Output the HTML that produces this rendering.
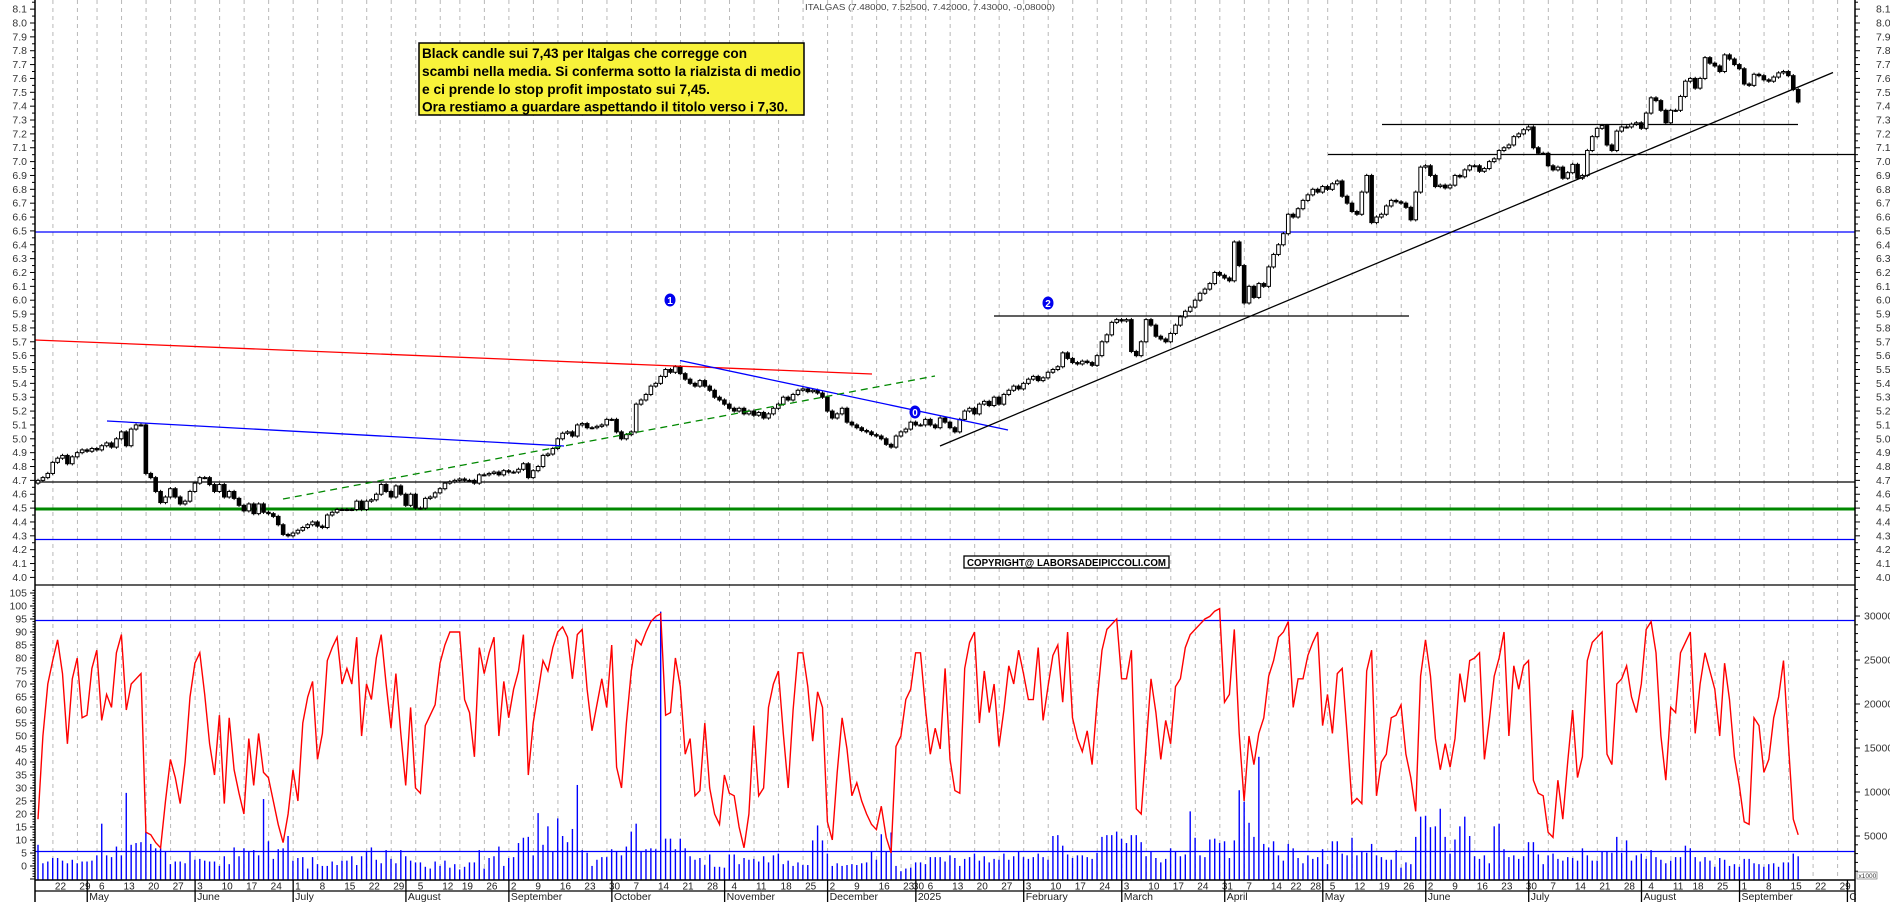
<!DOCTYPE html>
<html><head><meta charset="utf-8"><title>ITALGAS chart</title>
<style>
html,body{margin:0;padding:0;background:#fff;}
svg{display:block;font-family:"Liberation Sans",Arial,sans-serif;}
</style></head>
<body>
<svg id="chart" xmlns="http://www.w3.org/2000/svg" width="1890" height="902" viewBox="0 0 1890 902">
<defs><clipPath id="plotclip"><rect x="35" y="0" width="1821" height="902"/></clipPath></defs>
<rect x="0" y="0" width="1890" height="902" fill="#fff"/>
<g id="grid"></g>
<g id="hlines">
 <line x1="35" y1="232" x2="1855" y2="232" stroke="#0000ff" stroke-width="1.3"/>
 <line x1="35" y1="482" x2="1855" y2="482" stroke="#000" stroke-width="1.3"/>
 <line x1="35" y1="509" x2="1855" y2="509" stroke="#008800" stroke-width="3"/>
 <line x1="35" y1="539.5" x2="1855" y2="539.5" stroke="#0000ff" stroke-width="1.3"/>
 <line x1="994" y1="316" x2="1409" y2="316" stroke="#000" stroke-width="1.3"/>
 <line x1="1328" y1="154.5" x2="1855" y2="154.5" stroke="#000" stroke-width="1.3"/>
 <line x1="1382" y1="124.5" x2="1798" y2="124.5" stroke="#000" stroke-width="1.3"/>
 <line x1="35" y1="585" x2="1855" y2="585" stroke="#000" stroke-width="1.3"/>
 <line x1="35" y1="620.5" x2="1855" y2="620.5" stroke="#0000ff" stroke-width="1.3"/>
 <line x1="35" y1="851.5" x2="1855" y2="851.5" stroke="#0000ff" stroke-width="1.3"/>
</g>
<g id="vol"></g>
<g id="osc"></g>
<g id="candles"></g>
<g id="trend">
 <line x1="35" y1="340" x2="872" y2="374" stroke="#ff0000" stroke-width="1.3"/>
 <line x1="107" y1="421" x2="564" y2="446" stroke="#0000ff" stroke-width="1.3"/>
 <line x1="680" y1="360.5" x2="1008" y2="430" stroke="#0000ff" stroke-width="1.3"/>
 <line x1="283" y1="499" x2="935" y2="376" stroke="#008800" stroke-width="1.3" stroke-dasharray="7,5"/>
 <line x1="940" y1="446" x2="1833" y2="72.5" stroke="#000" stroke-width="1.3"/>
</g>
<g><ellipse cx="670" cy="300" rx="5.5" ry="6.5" fill="#0000ee"/><text x="670" y="304" font-size="10" font-weight="bold" fill="#fff" text-anchor="middle">1</text></g>
<g><ellipse cx="1048" cy="303" rx="5.5" ry="6.5" fill="#0000ee"/><text x="1048" y="307" font-size="10" font-weight="bold" fill="#fff" text-anchor="middle">2</text></g>
<g><ellipse cx="915" cy="412" rx="5.5" ry="6.5" fill="#0000ee"/><text x="915" y="416" font-size="10" font-weight="bold" fill="#fff" text-anchor="middle">0</text></g>
<g>
 <rect x="419" y="43" width="385" height="72" fill="#f8f23a" stroke="#000" stroke-width="1.5"/>
 <text x="422" y="58" font-size="14" font-weight="bold" textLength="325" lengthAdjust="spacingAndGlyphs">Black candle sui 7,43 per Italgas che corregge con</text>
 <text x="422" y="76" font-size="14" font-weight="bold" textLength="379" lengthAdjust="spacingAndGlyphs">scambi nella media. Si conferma sotto la rialzista di medio</text>
 <text x="422" y="94" font-size="14" font-weight="bold" textLength="288" lengthAdjust="spacingAndGlyphs">e ci prende lo stop profit impostato sui 7,45.</text>
 <text x="422" y="111.5" font-size="14" font-weight="bold" textLength="366" lengthAdjust="spacingAndGlyphs">Ora restiamo a guardare aspettando il titolo verso i 7,30.</text>
</g>
<g>
 <rect x="964" y="556" width="205" height="12" fill="#fff" stroke="#000" stroke-width="1.3"/>
 <text x="967" y="566" font-size="10.5" font-weight="bold" textLength="199" lengthAdjust="spacingAndGlyphs">COPYRIGHT@ LABORSADEIPICCOLI.COM</text>
</g>
<text x="805" y="10" font-size="8.5" fill="#444" textLength="250" lengthAdjust="spacingAndGlyphs">ITALGAS (7.48000, 7.52500, 7.42000, 7.43000, -0.08000)</text>
<g id="axes">
 <line x1="35" y1="0" x2="35" y2="902" stroke="#000" stroke-width="1.5"/>
 <line x1="1855" y1="0" x2="1855" y2="902" stroke="#000" stroke-width="1.5"/>
 <line x1="35" y1="880" x2="1855" y2="880" stroke="#000" stroke-width="1.5"/>
 <line x1="35" y1="891" x2="1855" y2="891" stroke="#000" stroke-width="1.3"/>
</g>
<g><rect x="1857" y="872" width="20" height="7" fill="#fff" stroke="#666" stroke-width="0.6"/><text x="1858.5" y="878" font-size="6.5" fill="#333">x1000</text></g>
</svg>
<script>
// ---- data ----
const closes=[4.70,4.72,4.75,4.83,4.86,4.88,4.82,4.87,4.90,4.92,4.91,4.93,4.92,4.95,4.97,4.94,5.00,
5.05,4.95,5.07,5.10,5.10,4.75,4.72,4.62,4.54,4.58,4.64,4.58,4.53,4.55,4.62,4.68,4.72,4.72,4.67,4.62,
4.67,4.58,4.62,4.57,4.52,4.48,4.53,4.46,4.53,4.47,4.46,4.44,4.38,4.31,4.30,4.32,4.34,4.36,4.38,4.40,
4.37,4.36,4.45,4.47,4.49,4.49,4.49,4.49,4.55,4.49,4.55,4.56,4.60,4.67,4.62,4.58,4.66,4.60,4.52,4.60,
4.50,4.50,4.57,4.58,4.61,4.64,4.68,4.69,4.70,4.71,4.70,4.70,4.68,4.74,4.74,4.75,4.76,4.74,4.77,4.76,
4.76,4.78,4.82,4.72,4.77,4.80,4.88,4.89,4.93,5.00,5.04,5.05,5.02,5.10,5.11,5.08,5.08,5.09,5.10,5.14,
5.14,5.05,5.00,5.03,5.05,5.25,5.28,5.32,5.38,5.40,5.45,5.50,5.48,5.52,5.47,5.43,5.40,5.38,5.42,5.38,
5.35,5.30,5.28,5.25,5.22,5.20,5.22,5.18,5.20,5.17,5.19,5.15,5.18,5.22,5.25,5.30,5.28,5.32,5.35,5.36,
5.34,5.35,5.33,5.30,5.20,5.15,5.18,5.22,5.12,5.10,5.08,5.06,5.05,5.03,5.02,5.00,4.96,4.94,5.02,5.05,5.07,
5.12,5.10,5.10,5.14,5.10,5.08,5.15,5.12,5.08,5.05,5.14,5.20,5.22,5.18,5.25,5.27,5.24,5.30,5.25,5.32,5.35,5.38,
5.36,5.40,5.43,5.45,5.42,5.44,5.48,5.50,5.52,5.62,5.58,5.55,5.54,5.56,5.55,5.53,5.60,5.70,5.75,5.84,5.86,
5.85,5.86,5.63,5.60,5.70,5.86,5.82,5.74,5.72,5.70,5.76,5.82,5.88,5.92,5.95,6.00,6.05,6.08,6.12,6.20,6.18,
6.16,6.14,6.42,6.25,5.98,6.10,6.02,6.12,6.10,6.24,6.33,6.40,6.48,6.62,6.60,6.66,6.72,6.76,6.80,6.78,
6.82,6.80,6.84,6.86,6.75,6.70,6.64,6.62,6.78,6.90,6.56,6.60,6.62,6.68,6.72,6.71,6.70,6.67,6.58,6.78,
6.96,6.97,6.90,6.82,6.83,6.81,6.83,6.90,6.89,6.94,6.97,6.97,6.93,6.95,7.00,7.02,7.08,7.10,7.12,7.18,7.20,7.23,7.25,
7.10,7.06,7.06,6.97,6.94,6.96,6.88,6.92,6.98,6.88,6.90,7.08,7.18,7.24,7.26,7.12,7.08,7.22,7.25,7.25,7.27,
7.28,7.24,7.35,7.46,7.44,7.37,7.28,7.37,7.37,7.47,7.58,7.60,7.53,7.60,7.75,7.71,7.69,7.65,7.77,7.74,7.70,
7.67,7.56,7.55,7.63,7.62,7.59,7.58,7.61,7.64,7.65,7.62,7.52,7.43];
const firstOpen=4.68;
const osc=[18,50,70,79,87,74,47,72,80,57,58,76,83,56,66,61,82,89,60,70,72,74,13,12,9,7,25,41,34,24,40,65,78,82,66,47,35,58,24,57,
37,28,20,49,31,51,36,34,25,16,9,20,37,25,55,65,71,41,51,79,84,88,70,76,70,88,50,70,64,80,89,70,53,74,51,31,61,30,28,54,
58,62,78,85,90,90,90,64,59,42,84,74,82,88,50,71,57,68,75,89,35,55,67,79,75,84,90,92,88,72,89,91,68,52,62,72,61,85,38,30,
55,75,87,85,90,94,96,97,58,59,80,69,43,49,27,29,55,30,20,16,35,28,27,15,7,20,54,27,30,61,70,75,51,30,60,82,82,69,48,67,
61,17,10,36,57,45,27,32,25,20,16,14,23,11,5,46,50,64,68,82,82,61,43,53,45,76,41,29,28,76,86,90,55,75,59,70,46,60,77,70,
83,74,64,64,84,56,69,81,85,63,90,57,49,44,52,39,63,83,91,93,95,72,72,83,22,20,46,72,59,41,56,47,69,72,84,89,91,93,95,96,
98,99,63,66,91,51,25,50,39,51,57,73,79,88,90,94,61,72,72,81,86,90,54,66,51,74,76,51,24,26,24,75,83,27,40,43,57,58,62,43,
34,21,73,87,73,49,37,47,38,49,74,63,79,80,82,41,56,73,80,90,50,77,68,77,79,33,28,27,13,11,33,18,40,60,34,42,79,86,88,90,
43,39,70,72,77,65,59,70,91,94,82,50,33,61,59,82,86,90,51,70,82,75,68,50,78,64,42,31,17,16,57,54,36,41,57,65,79,47,18,12];
const volK=[4.0,1.9,2.1,2.5,2.5,2.2,1.9,2.3,1.9,2.1,2.1,2.2,2.8,6.4,2.8,2.6,3.8,2.8,9.9,4.0,4.2,4.3,5.5,4.1,3.6,3.6,3.3,1.8,2.1,2.1,
1.9,3.3,2.3,2.4,2.2,2.1,2.1,1.6,2.7,1.8,3.7,2.7,3.6,3.3,3.4,2.8,9.2,4.4,2.4,3.5,3.6,5.0,2.2,2.5,2.6,1.3,2.6,1.8,1.6,1.6,
2.1,1.7,2.2,2.2,2.7,1.7,2.7,3.2,3.7,2.3,1.9,3.4,2.4,1.9,3.4,2.7,2.2,2.0,2.0,1.5,1.3,2.1,1.6,2.2,1.4,1.8,1.2,1.5,2.0,2.0,
3.4,1.3,2.5,2.7,3.8,1.6,2.5,2.6,4.2,4.8,4.9,2.8,7.6,4.0,6.1,3.2,7.0,5.0,4.3,5.8,10.8,3.4,3.1,1.6,2.3,2.6,2.6,3.5,3.3,2.8,
3.8,5.5,6.4,3.2,3.5,3.6,3.5,30.5,4.7,4.7,3.5,4.7,3.6,2.7,2.3,2.5,1.7,2.9,1.5,1.5,1.4,2.9,2.9,1.8,2.5,2.3,2.4,2.1,2.7,2.0,
2.8,3.0,1.8,2.2,1.6,2.0,1.7,1.7,4.5,6.2,4.5,3.0,1.6,1.9,1.6,1.7,1.8,1.7,1.9,2.0,3.2,2.3,5.2,3.2,5.4,1.6,1.0,1.3,1.4,2.0,
2.0,1.8,2.6,2.6,2.6,2.1,2.8,2.5,1.6,2.4,2.6,3.0,2.2,2.7,2.0,2.4,2.3,3.0,2.3,2.7,3.3,2.6,2.4,2.6,3.0,2.6,2.3,5.0,5.1,3.9,
2.9,2.5,2.8,2.8,2.6,2.4,3.1,4.9,5.1,5.1,5.5,4.7,4.2,5.1,5.1,4.3,2.7,3.2,2.5,2.0,2.4,3.6,3.2,2.7,2.9,7.8,4.8,2.8,2.6,4.6,
4.7,4.2,4.4,2.5,4.5,10.2,8.9,6.5,4.9,14.0,4.1,3.7,4.4,2.8,2.2,4.1,3.6,2.5,1.9,2.8,2.4,2.6,3.5,1.8,4.4,4.4,3.0,2.8,4.8,2.8,
3.3,3.1,4.1,2.8,2.6,2.3,2.3,3.4,1.4,2.0,1.8,4.9,7.2,7.3,6.0,6.1,8.1,4.9,3.0,4.6,6.1,7.2,5.0,2.7,2.4,2.8,1.9,6.1,6.4,3.5,
2.6,2.8,2.4,2.7,4.3,4.3,2.9,1.8,2.8,3.0,2.4,2.2,2.6,2.5,2.2,3.6,2.8,2.2,2.2,3.2,3.2,3.1,4.9,3.1,4.5,2.2,2.8,3.0,2.4,3.4,
2.6,2.3,1.9,2.2,2.6,2.6,3.9,3.6,2.6,2.1,2.6,2.2,1.5,2.5,2.3,1.6,1.8,1.5,2.4,2.4,1.9,1.8,1.5,1.8,1.9,1.5,2.0,2.0,3.0,2.7];
const priceTickLabels=["4.0","4.1","4.2","4.3","4.4","4.5","4.6","4.7","4.8","4.9","5.0","5.1","5.2","5.3","5.4","5.5","5.6","5.7","5.8","5.9","6.0","6.1","6.2","6.3","6.4","6.5","6.6","6.7","6.8","6.9","7.0","7.1","7.2","7.3","7.4","7.5","7.6","7.7","7.8","7.9","8.0","8.1"];
const oscTickLabels=["0","5","10","15","20","25","30","35","40","45","50","55","60","65","70","75","80","85","90","95","100","105"];
const volTickLabels=["5000","10000","15000","20000","25000","30000"];
const monthNames=["January","February","March","April","May","June","July","August","September","October","November","December"];

// ---- scales ----
const NS="http://www.w3.org/2000/svg";
function X(i){return 38+4.903*i;}
function PY(p){return 23+(8-p)*138.6;}
function OY(v){return 866-2.6*v;}
function VY(k){return 880-k*8.8;}
function mk(tag,attrs,parent){const e=document.createElementNS(NS,tag);for(const k in attrs)e.setAttribute(k,attrs[k]);parent.appendChild(e);return e;}

// trading calendar
const hol=new Set(["2024-05-01","2024-08-15","2024-12-24","2024-12-25","2024-12-26","2024-12-31","2025-01-01","2025-04-18","2025-04-21","2025-05-01","2025-08-15"]);
const days=[];
{let d=new Date(Date.UTC(2024,3,16));const end=Date.UTC(2025,9,3);
 while(d.getTime()<=end){const w=d.getUTCDay();const s=d.toISOString().slice(0,10);
  if(w>0&&w<6&&!hol.has(s))days.push(new Date(d.getTime()));d.setUTCDate(d.getUTCDate()+1);}}

const svg=document.getElementById('chart');
const grid=document.getElementById('grid');
const axes=document.getElementById('axes');
const labelsG=mk('g',{'clip-path':'url(#plotclip)'},axes);



for(let i=1;i<days.length;i++){
  const gx=X(i)-4.7;
  if(days[i].getUTCDay()<days[i-1].getUTCDay()){
    if(gx>36&&gx<1854){
      const l=mk('line',{x1:gx,y1:0,x2:gx,y2:880,stroke:'#b8b8b8','stroke-width':1,'stroke-dasharray':'4,4'},grid);
      
      
    }
    const t=mk('text',{x:gx+2,y:889.5,'font-size':10,fill:'#222'},labelsG);
    t.textContent=String(days[i].getUTCDate());
    
    
  }
  if(days[i].getUTCMonth()!==days[i-1].getUTCMonth()){
    const l=mk('line',{x1:gx,y1:880,x2:gx,y2:902,stroke:'#000','stroke-width':1.3},axes);
    
    
    const m=days[i].getUTCMonth();
    const t=mk('text',{x:gx+2,y:900,'font-size':10.5,fill:'#222'},labelsG);
    t.textContent=m===0?String(days[i].getUTCFullYear()):monthNames[m];
    
    
  }
}

// y axes ticks & labels
for(let k=0;k<=83;k++){const p=4+k*0.05;const y=PY(p);const major=k%2===0;
  mk('line',{x1:major?30:32,y1:y,x2:35,y2:y,stroke:'#000','stroke-width':1},axes);
  mk('line',{x1:1855,y1:y,x2:major?1860:1858,y2:y,stroke:'#000','stroke-width':1},axes);}
priceTickLabels.forEach(function(s){const y=PY(parseFloat(s));
  const t=mk('text',{x:27,y:y+3.5,'font-size':10.5,fill:'#333','text-anchor':'end'},axes);t.textContent=s;
  
  
  const t2=mk('text',{x:1876,y:y+3.5,'font-size':10.5,fill:'#333'},axes);t2.textContent=s;
  
  });
for(let v=-5;v<=108;v++){const y=OY(v);if(y>879||y<588)continue;const major=v%5===0;
  mk('line',{x1:major?30:32.5,y1:y,x2:35,y2:y,stroke:'#000','stroke-width':1},axes);}
oscTickLabels.forEach(function(s){const y=OY(parseFloat(s));
  const t=mk('text',{x:27,y:y+3.5,'font-size':10.5,fill:'#333','text-anchor':'end'},axes);t.textContent=s;
  
  });
for(let k=1;k<=33;k++){const y=VY(k);if(y<588)continue;
  mk('line',{x1:1855,y1:y,x2:k%5===0?1860:1858,y2:y,stroke:'#000','stroke-width':1},axes);}
volTickLabels.forEach(function(s){const y=VY(parseFloat(s)/1000);
  const t=mk('text',{x:1864,y:y+3.5,'font-size':10.5,fill:'#333'},axes);t.textContent=s;
  
  });

// volume bars
const volG=document.getElementById('vol');
volK.forEach(function(v,i){const x=X(i);
  const b=mk('line',{x1:x,y1:880,x2:x,y2:VY(v),stroke:'#0000ff','stroke-width':1.4},volG);
  
  });

// oscillator line
const oscG=document.getElementById('osc');
const pts=osc.map(function(v,i){return X(i).toFixed(1)+','+OY(v).toFixed(1);}).join(' ');
const pl=mk('polyline',{points:pts,fill:'none',stroke:'#ff0000','stroke-width':1.4,'stroke-linejoin':'miter'},oscG);



// candles
const cG=document.getElementById('candles');
closes.forEach(function(c,i){
  const o=i===0?firstOpen:closes[i-1];
  const hi=Math.max(o,c)+0.012, lo=Math.min(o,c)-0.012;
  const x=X(i);
  const g=mk('g',{},cG);
  
  
  mk('line',{x1:x,y1:PY(hi),x2:x,y2:PY(lo),stroke:'#000','stroke-width':1},g);
  const top=PY(Math.max(o,c)), bot=PY(Math.min(o,c));
  const h=Math.max(1,bot-top);
  mk('rect',{x:x-1.8,y:top,width:3.6,height:h,fill:c>=o?'#fff':'#000',stroke:'#000','stroke-width':1},g);
});
</script>
</body></html>
